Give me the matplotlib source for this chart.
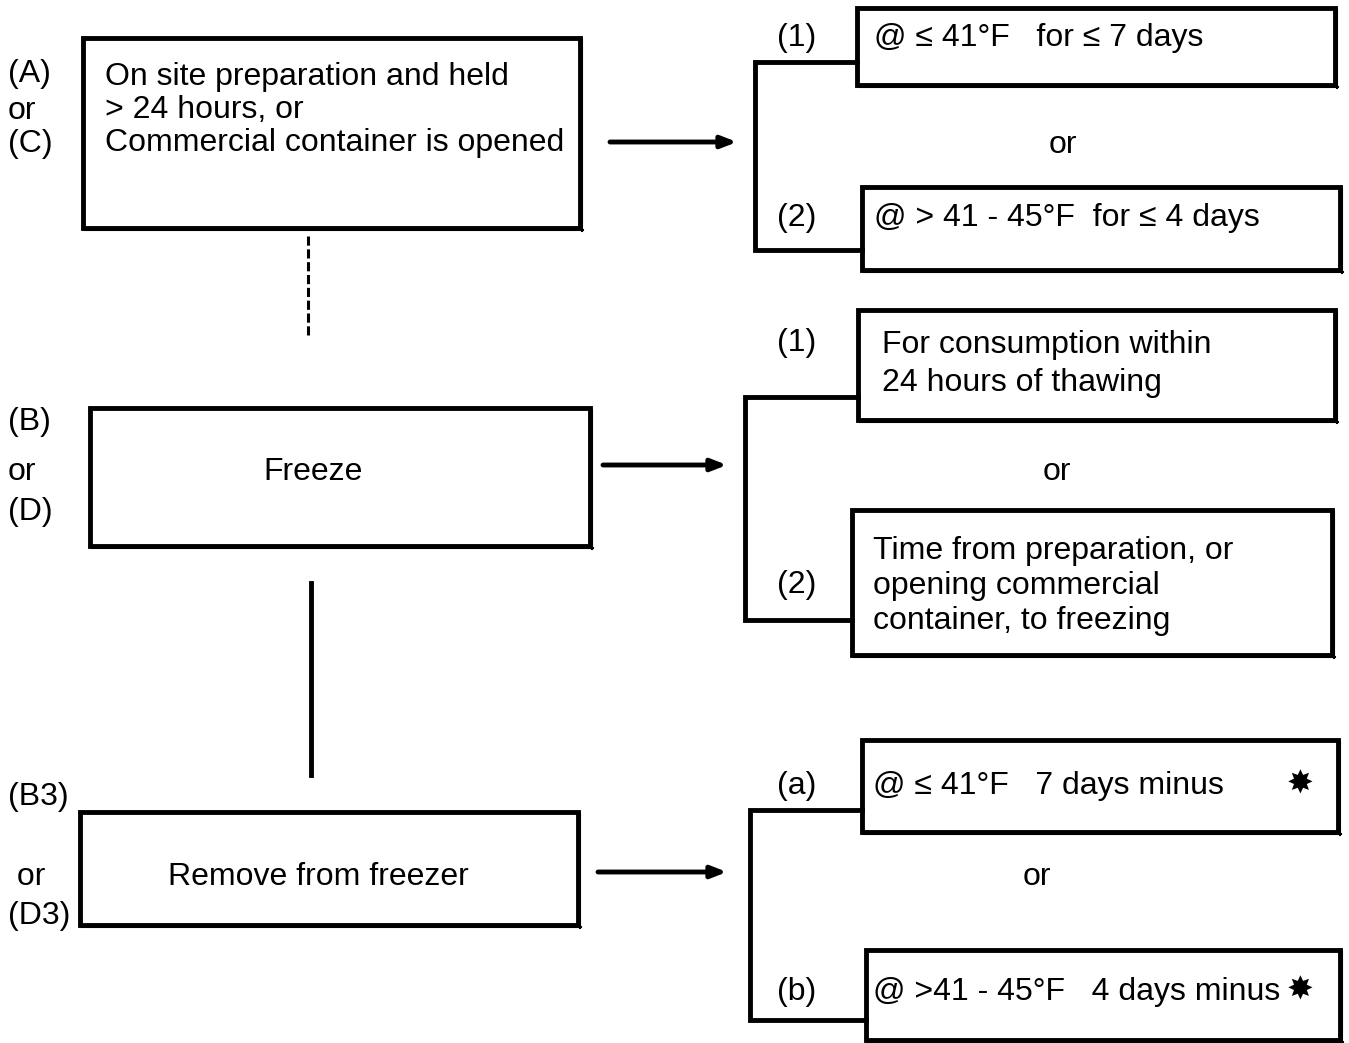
import matplotlib.pyplot as plt
from matplotlib.patches import Rectangle

plt.rcParams['font.family'] = ['Liberation Sans', 'DejaVu Sans']

# texts of the chart
main_texts = ['On site preparation and held\n> 24 hours, or\nCommercial container is opened',
              'Freeze',
              'Remove from freezer']
main_labels = [['(A)', 'or', '(C)'], ['(B)', 'or', '(D)'], ['(B3)', ' or', '(D3)']]
branch_labels = [['(1)', '(2)'], ['(1)', '(2)'], ['(a)', '(b)']]
branch_texts = [['@ ≤ 41°F   for ≤ 7 days', '@ > 41 - 45°F  for ≤ 4 days'],
                ['For consumption within\n24 hours of thawing',
                 'Time from preparation, or\nopening commercial\ncontainer, to freezing'],
                ['@ ≤ 41°F   7 days minus', '@ >41 - 45°F   4 days minus']]

W, H = 1349, 1043
fig = plt.figure(figsize=(W / 100, H / 100), dpi=100)
ax = fig.add_axes([0, 0, 1, 1])
ax.set_xlim(0, W)
ax.set_ylim(H, 0)
ax.axis('off')

LW = 3.5
FS = 23


def box(x0, y0, x1, y1):
    ax.add_patch(Rectangle((x0, y0), x1 - x0, y1 - y0, fill=False, lw=LW, ec='k'))
    # small shadow on right and bottom
    ax.plot([x1 + 2, x1 + 2], [y0 + 2, y1 + 3], color='k', lw=1.5)
    ax.plot([x0 + 2, x1 + 3], [y1 + 2, y1 + 2], color='k', lw=1.5)


def arrow(x0, x1, y):
    ax.annotate('', xy=(x1, y), xytext=(x0, y),
                arrowprops=dict(arrowstyle='-|>,head_length=0.9,head_width=0.35',
                                lw=LW, color='k', shrinkA=0, shrinkB=0))


def bracket(x, ytop, ybot, xr1, xr2):
    ax.plot([xr1, x, x, xr2], [ytop, ytop, ybot, ybot], color='k', lw=LW,
            solid_joinstyle='miter')


# main boxes (x0, y0, x1, y1)
main_boxes = [(83, 38, 580, 228), (90, 408, 590, 546), (80, 812, 578, 925)]
label_y = [(74, 111, 144), (422, 472, 512), (797, 877, 916)]

box(*main_boxes[0])
ax.text(105, 110, main_texts[0], fontsize=FS, va='center', ha='left', linespacing=1.15)
box(*main_boxes[1])
ax.text(313, 472, main_texts[1], fontsize=FS, va='center', ha='center')
box(*main_boxes[2])
ax.text(318, 877, main_texts[2], fontsize=FS, va='center', ha='center')

for labs, ys in zip(main_labels, label_y):
    for lab, y in zip(labs, ys):
        ax.text(8, y, lab, fontsize=FS, va='center', ha='left')

# connectors between the main boxes
ax.plot([308, 308], [236, 335], color='k', lw=2.2, ls=(0, (3, 1.2)))
ax.plot([311, 311], [583, 775], color='k', lw=LW)

# arrows
arrow(610, 737, 142)
arrow(603, 727, 465)
arrow(598, 727, 872)

# brackets
bracket(755, 62, 250, 857, 862)
bracket(745, 397, 620, 858, 852)
bracket(750, 810, 1020, 862, 866)

# branch boxes
box(857, 8, 1335, 85)
box(862, 187, 1340, 270)
box(858, 310, 1335, 420)
box(852, 510, 1332, 655)
box(862, 740, 1338, 832)
box(866, 950, 1340, 1040)

# branch texts
ax.text(874, 38, branch_texts[0][0], fontsize=FS, va='center', ha='left')
ax.text(874, 218, branch_texts[0][1], fontsize=FS, va='center', ha='left')
ax.text(882, 364, branch_texts[1][0], fontsize=FS, va='center', ha='left', linespacing=1.38)
ax.text(873, 586, branch_texts[1][1], fontsize=FS, va='center', ha='left', linespacing=1.22)
ax.text(873, 786, branch_texts[2][0], fontsize=FS, va='center', ha='left')
ax.text(873, 992, branch_texts[2][1], fontsize=FS, va='center', ha='left')
ax.text(1300, 786, '✸', fontsize=FS, va='center', ha='center')
ax.text(1300, 992, '✸', fontsize=FS, va='center', ha='center')

# branch labels
ax.text(797, 38, branch_labels[0][0], fontsize=FS, va='center', ha='center')
ax.text(797, 218, branch_labels[0][1], fontsize=FS, va='center', ha='center')
ax.text(797, 343, branch_labels[1][0], fontsize=FS, va='center', ha='center')
ax.text(797, 585, branch_labels[1][1], fontsize=FS, va='center', ha='center')
ax.text(797, 786, branch_labels[2][0], fontsize=FS, va='center', ha='center')
ax.text(797, 992, branch_labels[2][1], fontsize=FS, va='center', ha='center')

# "or" between branches
ax.text(1063, 145, 'or', fontsize=FS, va='center', ha='center')
ax.text(1057, 472, 'or', fontsize=FS, va='center', ha='center')
ax.text(1037, 877, 'or', fontsize=FS, va='center', ha='center')

plt.savefig('out.png', dpi=100)
